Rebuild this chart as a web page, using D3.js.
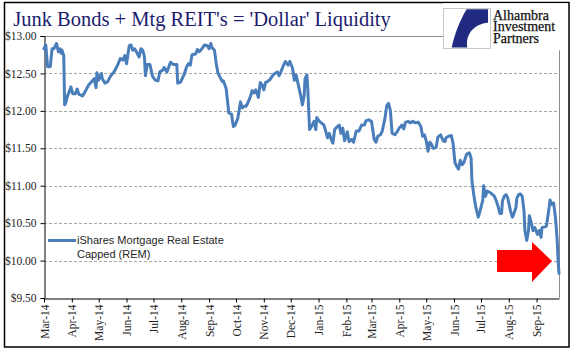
<!DOCTYPE html>
<html><head><meta charset="utf-8">
<script src="https://cdn.jsdelivr.net/npm/d3@7"></script>
<style>body{margin:0;background:#fff}svg{display:block}</style>
</head><body>
<svg id="c" width="577" height="361"></svg>
<script>
const title = "Junk Bonds + Mtg REIT's = 'Dollar' Liquidity";
const seriesName = ["iShares Mortgage Real Estate", "Capped (REM)"];
const logoText = ["Alhambra", "Investment", "Partners"];
const yTicks = [9.5, 10, 10.5, 11, 11.5, 12, 12.5, 13];
const xTickMonths = ["2014-03-01","2014-04-01","2014-05-01","2014-06-01","2014-07-01","2014-08-01","2014-09-01","2014-10-01","2014-11-01","2014-12-01","2015-01-01","2015-02-01","2015-03-01","2015-04-01","2015-05-01","2015-06-01","2015-07-01","2015-08-01","2015-09-01"];
const dates = ["2014-03-01","2014-03-03","2014-03-05","2014-03-08","2014-03-10","2014-03-12","2014-03-15","2014-03-17","2014-03-19","2014-03-20","2014-03-21","2014-03-23","2014-03-24","2014-03-25","2014-03-27","2014-03-31","2014-04-02","2014-04-05","2014-04-07","2014-04-09","2014-04-13","2014-04-16","2014-04-20","2014-04-26","2014-04-28","2014-04-29","2014-05-01","2014-05-04","2014-05-05","2014-05-08","2014-05-11","2014-05-14","2014-05-18","2014-05-22","2014-05-25","2014-05-28","2014-05-30","2014-06-01","2014-06-04","2014-06-06","2014-06-08","2014-06-10","2014-06-12","2014-06-15","2014-06-17","2014-06-19","2014-06-21","2014-06-22","2014-06-24","2014-06-27","2014-06-30","2014-07-03","2014-07-06","2014-07-08","2014-07-11","2014-07-13","2014-07-16","2014-07-20","2014-07-23","2014-07-27","2014-07-28","2014-07-31","2014-08-04","2014-08-07","2014-08-09","2014-08-11","2014-08-13","2014-08-17","2014-08-19","2014-08-21","2014-08-24","2014-08-27","2014-08-30","2014-09-01","2014-09-03","2014-09-04","2014-09-07","2014-09-09","2014-09-11","2014-09-14","2014-09-16","2014-09-17","2014-09-20","2014-09-22","2014-09-23","2014-09-26","2014-09-28","2014-09-30","2014-10-03","2014-10-06","2014-10-08","2014-10-10","2014-10-12","2014-10-14","2014-10-17","2014-10-19","2014-10-21","2014-10-23","2014-10-26","2014-10-28","2014-10-30","2014-11-01","2014-11-03","2014-11-05","2014-11-08","2014-11-12","2014-11-16","2014-11-18","2014-11-20","2014-11-23","2014-11-25","2014-11-28","2014-11-30","2014-12-03","2014-12-05","2014-12-07","2014-12-09","2014-12-12","2014-12-14","2014-12-16","2014-12-17","2014-12-19","2014-12-20","2014-12-22","2014-12-24","2014-12-27","2014-12-29","2014-12-30","2015-01-02","2015-01-04","2015-01-07","2015-01-09","2015-01-11","2015-01-13","2015-01-15","2015-01-17","2015-01-19","2015-01-22","2015-01-24","2015-01-26","2015-01-28","2015-01-30","2015-02-02","2015-02-04","2015-02-07","2015-02-09","2015-02-12","2015-02-15","2015-02-18","2015-02-21","2015-02-23","2015-02-26","2015-03-01","2015-03-04","2015-03-06","2015-03-08","2015-03-11","2015-03-13","2015-03-16","2015-03-18","2015-03-20","2015-03-22","2015-03-24","2015-03-27","2015-03-30","2015-04-01","2015-04-04","2015-04-06","2015-04-08","2015-04-11","2015-04-13","2015-04-16","2015-04-19","2015-04-22","2015-04-25","2015-04-27","2015-04-29","2015-05-01","2015-05-03","2015-05-05","2015-05-07","2015-05-09","2015-05-12","2015-05-14","2015-05-17","2015-05-20","2015-05-22","2015-05-23","2015-05-26","2015-05-29","2015-05-31","2015-06-02","2015-06-04","2015-06-06","2015-06-08","2015-06-10","2015-06-12","2015-06-15","2015-06-18","2015-06-20","2015-06-21","2015-06-23","2015-06-25","2015-06-28","2015-06-30","2015-07-01","2015-07-03","2015-07-04","2015-07-06","2015-07-08","2015-07-11","2015-07-14","2015-07-16","2015-07-18","2015-07-20","2015-07-22","2015-07-24","2015-07-25","2015-07-27","2015-07-29","2015-07-31","2015-08-03","2015-08-05","2015-08-06","2015-08-09","2015-08-10","2015-08-12","2015-08-14","2015-08-16","2015-08-18","2015-08-19","2015-08-21","2015-08-23","2015-08-24","2015-08-26","2015-08-28","2015-08-30","2015-09-01","2015-09-02","2015-09-04","2015-09-06","2015-09-07","2015-09-10","2015-09-12","2015-09-15","2015-09-16","2015-09-18","2015-09-20","2015-09-22","2015-09-24","2015-09-25","2015-09-26"];
const prices = [12.83,12.88,12.59,12.59,12.83,12.83,12.90,12.79,12.83,12.77,12.81,12.74,12.08,12.10,12.19,12.32,12.23,12.23,12.29,12.22,12.20,12.26,12.35,12.43,12.31,12.51,12.41,12.50,12.43,12.37,12.39,12.46,12.52,12.61,12.70,12.68,12.74,12.63,12.87,12.88,12.81,12.83,12.79,12.72,12.83,12.81,12.72,12.47,12.62,12.62,12.46,12.41,12.40,12.52,12.54,12.58,12.52,12.65,12.62,12.62,12.37,12.38,12.48,12.59,12.63,12.61,12.75,12.76,12.82,12.79,12.83,12.88,12.87,12.83,12.90,12.85,12.81,12.63,12.50,12.43,12.39,12.40,12.30,12.08,11.97,11.96,11.79,11.81,11.90,12.12,12.04,12.06,12.06,12.10,12.19,12.27,12.24,12.28,12.18,12.38,12.35,12.28,12.38,12.39,12.42,12.49,12.52,12.47,12.52,12.61,12.66,12.61,12.66,12.57,12.41,12.48,12.37,12.21,12.08,12.21,12.43,12.48,12.30,11.75,11.79,11.86,11.75,11.91,11.86,11.84,11.81,11.73,11.64,11.70,11.62,11.57,11.75,11.79,11.81,11.70,11.77,11.60,11.72,11.59,11.62,11.58,11.73,11.73,11.81,11.81,11.87,11.88,11.86,11.62,11.58,11.66,11.68,11.73,11.90,12.07,12.10,12.01,11.70,11.68,11.73,11.77,11.81,11.76,11.85,11.86,11.84,11.86,11.84,11.85,11.79,11.66,11.68,11.60,11.46,11.58,11.55,11.50,11.51,11.65,11.68,11.60,11.59,11.64,11.66,11.67,11.56,11.31,11.26,11.22,11.34,11.28,11.31,11.42,11.44,11.37,11.06,10.88,10.73,10.58,10.66,10.71,10.80,11.00,10.86,10.93,10.91,10.88,10.86,10.80,10.73,10.63,10.63,10.80,10.86,10.88,10.83,10.66,10.58,10.60,10.71,10.83,10.88,10.89,10.86,10.66,10.40,10.27,10.40,10.60,10.51,10.40,10.44,10.38,10.35,10.40,10.31,10.44,10.45,10.46,10.71,10.81,10.75,10.77,10.58,10.27,10.00,9.83];

const parse = d3.timeParse("%Y-%m-%d");
const data = dates.map((d, i) => ({date: parse(d), v: prices[i]}));
const svg = d3.select("#c");

const x = d3.scaleTime().domain([parse("2014-03-01"), parse("2015-09-26")]).range([44, 559]);
const y = d3.scaleLinear().domain([9.5, 13]).range([298, 36]);

// outer border
svg.append("rect").attr("x", 4.5).attr("y", 2.5).attr("width", 564.5).attr("height", 344.5)
  .attr("fill", "#fff").attr("stroke", "#000").attr("stroke-width", 1.5);

// title
svg.append("text").attr("x", 202).attr("y", 26).attr("text-anchor", "middle")
  .attr("font-family", "Liberation Serif, Times New Roman, serif").attr("font-size", 20.5)
  .attr("fill", "#1c1c6e").text(title);

// gridlines
svg.append("g").selectAll("line").data(yTicks.filter(t => t > 9.5 && t < 13)).join("line")
  .attr("x1", 44).attr("x2", 559).attr("y1", d => Math.round(y(d)) + 0.5).attr("y2", d => Math.round(y(d)) + 0.5)
  .attr("stroke", "#a6a6a6").attr("stroke-width", 1).attr("stroke-dasharray", "3,2");
// plot area top / right border
svg.append("path").attr("d", `M44,${y(13)+0.5}H559.5V298`).attr("fill", "none").attr("stroke", "#8c8c8c").attr("stroke-width", 1);

// y axis
const yAxis = d3.axisLeft(y).tickValues(yTicks).tickFormat(d => "$" + d3.format(".2f")(d)).tickSize(4).tickPadding(4);
const gy = svg.append("g").attr("transform", "translate(44.5,0)").call(yAxis);
gy.select(".domain").attr("stroke", "#000");
gy.selectAll(".tick line").attr("stroke", "#000");
gy.selectAll("text").attr("font-family", "Liberation Serif, Times New Roman, serif").attr("font-size", 11.5).attr("fill", "#222");

// x axis
const xAxis = d3.axisBottom(x).tickValues(xTickMonths.map(parse)).tickFormat(d3.timeFormat("%b-%y")).tickSize(4).tickSizeOuter(0);
const gx = svg.append("g").attr("transform", "translate(0,298.5)").call(xAxis);
gx.select(".domain").attr("stroke", "#000");
gx.selectAll(".tick line").attr("stroke", "#000");
gx.selectAll("text").attr("font-family", "Liberation Serif, Times New Roman, serif").attr("font-size", 11.5).attr("fill", "#222")
  .attr("text-anchor", "end").attr("transform", "rotate(-90)").attr("x", -6).attr("y", 0).attr("dy", "0.35em");

// line
svg.append("path").datum(data).attr("fill", "none").attr("stroke", "#4a7ebb").attr("stroke-width", 3)
  .attr("stroke-linejoin", "round").attr("stroke-linecap", "round")
  .attr("d", d3.line().x(d => x(d.date)).y(d => y(d.v)));

// legend
svg.append("line").attr("x1", 48).attr("x2", 76).attr("y1", 240.5).attr("y2", 240.5).attr("stroke", "#4a7ebb").attr("stroke-width", 3);
svg.append("text").attr("font-family", "Liberation Sans, Arial, sans-serif").attr("font-size", 11).attr("fill", "#262626")
  .selectAll("tspan").data(seriesName).join("tspan")
  .attr("x", 77).attr("y", (d, i) => 244 + i * 14).text(d => d);

// red arrow
svg.append("path").attr("d", "M497,250H532V242L552,261L532,282V272H497Z").attr("fill", "#ff0000");

// logo
const lg = svg.append("g");
lg.append("rect").attr("x", 443).attr("y", 3.3).attr("width", 124.5).attr("height", 47).attr("fill", "#fff");
lg.append("rect").attr("x", 443.5).attr("y", 8.5).attr("width", 47).attr("height", 40).attr("fill", "none").attr("stroke", "#bbb").attr("stroke-width", 0.8);
lg.append("path").attr("d", "M466.7,9.3L488,9.3L488,22.7C477,23.3 465,31.7 467.3,47.5L451.7,47.5C455,33 460,20 466.7,9.3Z").attr("fill", "#1f2a80");
lg.append("text").attr("font-family", "Liberation Serif, Times New Roman, serif").attr("font-size", 14)
  .attr("fill", "#111").attr("stroke", "#111").attr("stroke-width", 0.25)
  .selectAll("tspan").data(logoText).join("tspan")
  .attr("x", 493).attr("y", (d, i) => 20 + i * 11.3).text(d => d);
</script>
</body></html>
